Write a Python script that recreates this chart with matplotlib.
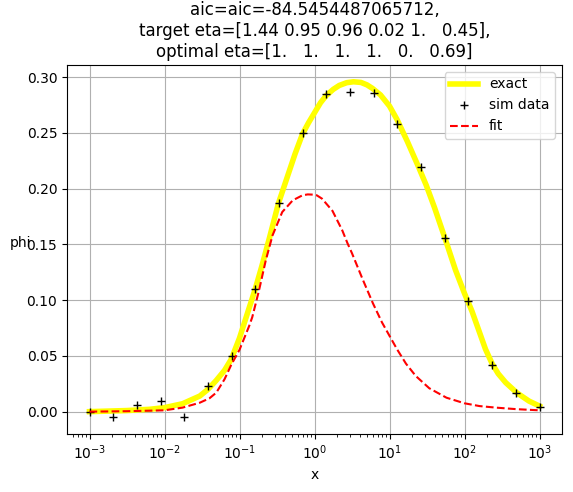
import numpy as np
from matplotlib import pyplot as plt

# simulated data points
x_sim = [0.001, 0.00207, 0.00428, 0.00886, 0.0183, 0.0379, 0.0785, 0.162, 0.336, 0.695,
         1.44, 2.98, 6.16, 12.7, 26.4, 54.6, 113, 234, 483, 1000]
phi_sim = [0.000, -0.005, 0.006, 0.0096, -0.0048, 0.0227, 0.050, 0.110, 0.187, 0.250,
           0.2845, 0.2863, 0.2857, 0.258, 0.219, 0.1555, 0.099, 0.0418, 0.0167, 0.0045]

# exact curve, read at log10(x)
logx_exact = [-3.0, -2.5, -2.2, -2.0, -1.76, -1.53, -1.42, -1.31, -1.2, -1.11, -1.0, -0.9,
              -0.79, -0.7, -0.6, -0.48, -0.36, -0.26, -0.16, -0.08, 0.0, 0.08, 0.157, 0.25,
              0.33, 0.43, 0.52, 0.62, 0.7, 0.77, 0.88, 1.0, 1.1, 1.24, 1.39, 1.49, 1.6,
              1.74, 1.88, 2.0, 2.1, 2.19, 2.28, 2.37, 2.45, 2.55, 2.7, 2.86, 3.0]
phi_exact = [0.000, 0.001, 0.0021, 0.0036, 0.0071, 0.014, 0.020, 0.028, 0.037, 0.047, 0.066, 0.087,
             0.110, 0.131, 0.156, 0.187, 0.211, 0.231, 0.249, 0.259, 0.268, 0.277, 0.2835, 0.289,
             0.2925, 0.295, 0.2958, 0.2952, 0.293, 0.290, 0.284, 0.274, 0.262, 0.242, 0.219, 0.203, 0.183,
             0.1554, 0.127, 0.106, 0.090, 0.073, 0.056, 0.0428, 0.034, 0.026, 0.0168, 0.0095, 0.005]

# fitted curve, read at log10(x)
logx_fit = [-3.0, -2.5, -2.0, -1.76, -1.53, -1.4, -1.31, -1.2, -1.11, -1.0, -0.87, -0.83,
            -0.74, -0.65, -0.56, -0.43, -0.29, -0.16, -0.09, -0.02, 0.03, 0.10, 0.24, 0.37,
            0.44, 0.50, 0.64, 0.78, 0.9, 1.0, 1.1, 1.22, 1.35, 1.53, 1.76, 2.0, 2.2, 2.42,
            2.7, 3.0]
phi_fit = [0.0, 0.0004, 0.0012, 0.0036, 0.008, 0.012, 0.017, 0.029, 0.042, 0.0555, 0.077, 0.0847,
           0.1087, 0.1356, 0.158, 0.179, 0.1895, 0.194, 0.1948, 0.1946, 0.194, 0.191, 0.180, 0.1626,
           0.151, 0.142, 0.119, 0.097, 0.080, 0.068, 0.056, 0.043, 0.032, 0.021, 0.0125, 0.0075, 0.005, 0.0036,
           0.0022, 0.0012]

fig = plt.figure(figsize=(5.73, 4.92), dpi=100)
ax = fig.add_axes([67/573, 1-434/492, 495/573, 369/492])

ax.plot(10**np.array(logx_exact), phi_exact, color='yellow', lw=4, label='exact')
ax.plot(x_sim, phi_sim, 'k+', label='sim data')
ax.plot(10**np.array(logx_fit), phi_fit, 'r--', label='fit')
ax.set_xscale('log')
ax.grid()
ax.legend(loc='upper right')
ax.set_xlabel('x')
ax.set_ylabel('phi', rotation=0)
ax.set_title('aic=aic=-84.5454487065712,\ntarget eta=[1.44 0.95 0.96 0.02 1.   0.45],\n'
             'optimal eta=[1.   1.   1.   1.   0.   0.69]')

fig.savefig('out.png')
